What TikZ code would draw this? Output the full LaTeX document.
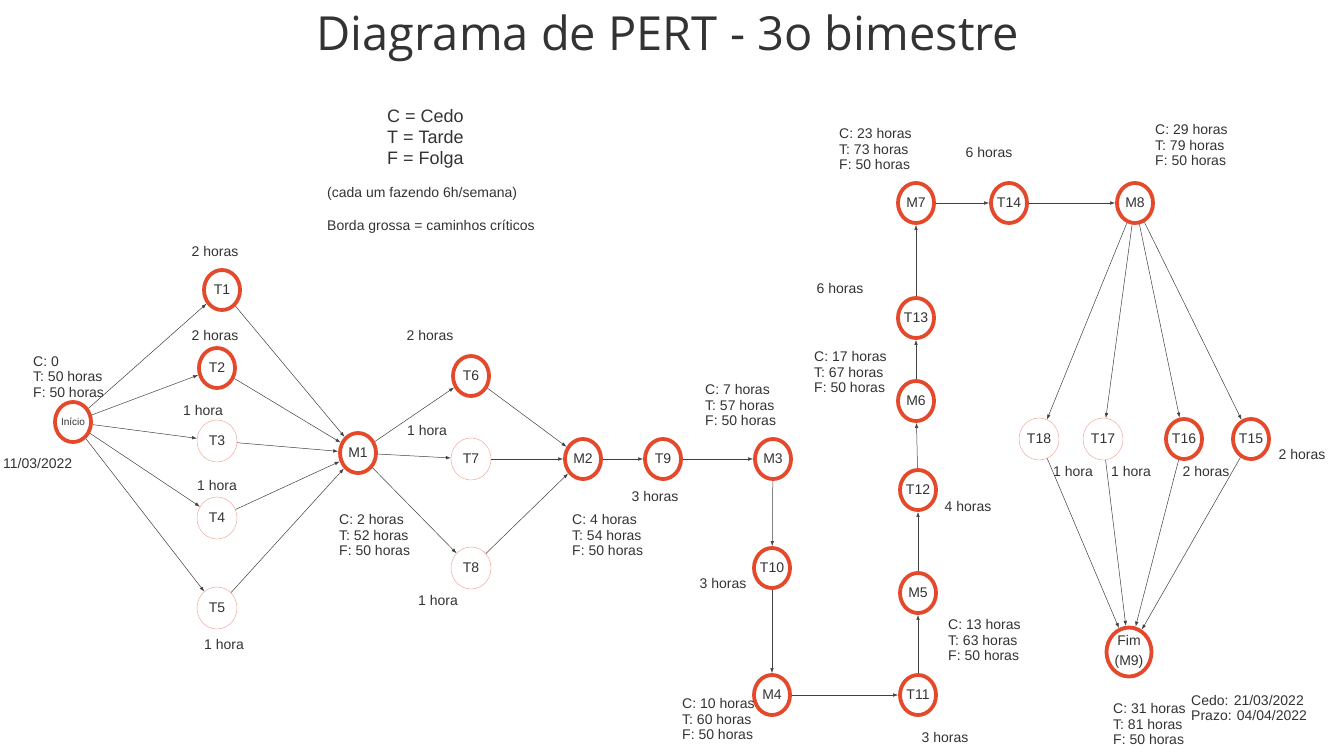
\documentclass[tikz,border=0pt]{standalone}
\usepackage{fontspec}
\setmainfont{Liberation Sans}
\newfontfamily\titlefont{Open Sans}
\usetikzlibrary{shapes.geometric, arrows.meta, positioning}
\definecolor{critred}{HTML}{E4492B}
\definecolor{inkgrey}{HTML}{333333}

\begin{document}
\begin{tikzpicture}[x=1pt, y=-1pt, >={Latex[length=5pt,width=3.5pt]},
  every node/.style={text=inkgrey},
  crit/.style={ellipse, draw=critred, line width=3.8pt, minimum width=36pt,
    minimum height=40pt, inner sep=0pt, font=\fontsize{14}{16}\selectfont},
  task/.style={ellipse, draw=critred!55, line width=0.4pt, minimum width=40pt,
    minimum height=42pt, inner sep=0pt, font=\fontsize{14}{16}\selectfont},
  info/.style={anchor=west, align=left, inner sep=0pt, font=\fontsize{14}{15.7}\selectfont},
  dur/.style={inner sep=0pt, font=\fontsize{14}{16}\selectfont},
  link/.style={->, draw=black!75, line width=0.5pt}]
  \useasboundingbox[fill=white] (0,0) rectangle (1329,752);

  \node[font=\titlefont\fontsize{47}{50}\selectfont] (title) at (668,38) {Diagrama de PERT - 3o bimestre};

  % legenda
  \node[info, font=\fontsize{18}{21}\selectfont] (legend) at (387,139) {C = Cedo\\T = Tarde\\F = Folga};
  \node[info] (weekly) at (327,194) {(cada um fazendo 6h/semana)};
  \node[info] (thick) at (327,227) {Borda grossa = caminhos críticos};

  % nodes
  \node[crit, font=\fontsize{10}{12}\selectfont] (start) at (73,422) {Início};
  \node[crit] (t1) at (222,290) {T1};
  \node[crit] (t2) at (217,368) {T2};
  \node[task] (t3) at (217,441) {T3};
  \node[task] (t4) at (217,518) {T4};
  \node[task] (t5) at (217,608) {T5};
  \node[crit] (m1) at (358,453) {M1};
  \node[crit] (t6) at (471,376) {T6};
  \node[task] (t7) at (471,459) {T7};
  \node[task] (t8) at (471,568) {T8};
  \node[crit] (m2) at (583,459) {M2};
  \node[crit] (t9) at (663,459) {T9};
  \node[crit] (m3) at (773,459) {M3};
  \node[crit] (t10) at (772,568) {T10};
  \node[crit] (m4) at (772,695) {M4};
  \node[crit] (t11) at (918,695) {T11};
  \node[crit] (m5) at (918,593) {M5};
  \node[crit] (t12) at (918,490) {T12};
  \node[crit] (m6) at (916,401) {M6};
  \node[crit] (t13) at (916,318) {T13};
  \node[crit] (m7) at (916,203) {M7};
  \node[crit] (t14) at (1009,203) {T14};
  \node[crit] (m8) at (1135,203) {M8};
  \node[task] (t18) at (1039,439) {T18};
  \node[task] (t17) at (1103,439) {T17};
  \node[crit] (t16) at (1184,439) {T16};
  \node[crit] (t15) at (1251,439) {T15};
  \node[crit, align=center, minimum width=45pt, minimum height=49pt,
    font=\fontsize{14}{20}\selectfont] (m9) at (1129,652) {Fim\\(M9)};

  % duracoes
  \node[dur] (d1) at (215,251) {2 horas};
  \node[dur] (d2) at (215,335) {2 horas};
  \node[dur] (d3) at (203,410) {1 hora};
  \node[dur] (d4) at (217,485) {1 hora};
  \node[dur] (d5) at (224,644) {1 hora};
  \node[dur] (d6) at (430,335) {2 horas};
  \node[dur] (d7) at (427,430) {1 hora};
  \node[dur] (d8) at (438,600) {1 hora};
  \node[dur] (d9) at (655,496) {3 horas};
  \node[dur] (d10) at (723,583) {3 horas};
  \node[dur] (d11) at (945,737) {3 horas};
  \node[dur] (d12) at (968,506) {4 horas};
  \node[dur] (d13) at (840,288) {6 horas};
  \node[dur] (d14) at (989,152) {6 horas};
  \node[dur] (d18) at (1073,471) {1 hora};
  \node[dur] (d17) at (1131,471) {1 hora};
  \node[dur] (d16) at (1206,471) {2 horas};
  \node[dur] (d15) at (1302,454) {2 horas};

  % folgas
  \node[info] (istart) at (33,377) {C: 0\\T: 50 horas\\F: 50 horas};
  \node[info] (date) at (3,463) {11/03/2022};
  \node[info] (im1) at (339,535) {C: 2 horas\\T: 52 horas\\F: 50 horas};
  \node[info] (im2) at (572,535) {C: 4 horas\\T: 54 horas\\F: 50 horas};
  \node[info] (im3) at (705,405) {C: 7 horas\\T: 57 horas\\F: 50 horas};
  \node[info] (im4) at (682,719) {C: 10 horas\\T: 60 horas\\F: 50 horas};
  \node[info] (im5) at (948,640) {C: 13 horas\\T: 63 horas\\F: 50 horas};
  \node[info] (im6) at (814,372) {C: 17 horas\\T: 67 horas\\F: 50 horas};
  \node[info] (im7) at (839,149) {C: 23 horas\\T: 73 horas\\F: 50 horas};
  \node[info] (im8) at (1155,145) {C: 29 horas\\T: 79 horas\\F: 50 horas};
  \node[info] (im9) at (1113,724) {C: 31 horas\\T: 81 horas\\F: 50 horas};
  \node[info] (deadline) at (1191,708) {Cedo: 21/03/2022\\Prazo: 04/04/2022};

  \draw[link] (start) -- (t1);
  \draw[link] (start) -- (t2);
  \draw[link] (start) -- (t3);
  \draw[link] (start) -- (t4);
  \draw[link] (start) -- (t5);
  \draw[link] (t1) -- (m1);
  \draw[link] (t2) -- (m1);
  \draw[link] (t3) -- (m1);
  \draw[link] (t4) -- (m1);
  \draw[link] (t5) -- (m1);
  \draw[link] (m1) -- (t6);
  \draw[link] (m1) -- (t7);
  \draw[link] (m1) -- (t8);
  \draw[link] (t6) -- (m2);
  \draw[link] (t7) -- (m2);
  \draw[link] (t8) -- (m2);
  \draw[link] (m2) -- (t9);
  \draw[link] (t9) -- (m3);
  \draw[link] (m3) -- (t10);
  \draw[link] (t10) -- (m4);
  \draw[link] (m4) -- (t11);
  \draw[link] (t11) -- (m5);
  \draw[link] (m5) -- (t12);
  \draw[link] (t12) -- (m6);
  \draw[link] (m6) -- (t13);
  \draw[link] (t13) -- (m7);
  \draw[link] (m7) -- (t14);
  \draw[link] (t14) -- (m8);
  \draw[link] (m8) -- (t18);
  \draw[link] (m8) -- (t17);
  \draw[link] (m8) -- (t16);
  \draw[link] (m8) -- (t15);
  \draw[link] (t18) -- (m9);
  \draw[link] (t17) -- (m9);
  \draw[link] (t16) -- (m9);
  \draw[link] (t15) -- (m9);
\end{tikzpicture}
\end{document}
